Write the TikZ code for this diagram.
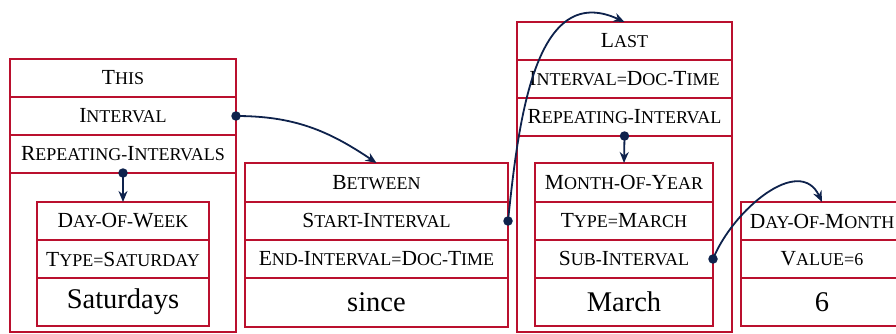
\documentclass[tikz,border=0pt]{standalone}
\usepackage{fontspec}
\setmainfont{Liberation Serif}
\usetikzlibrary{arrows.meta}
\definecolor{boxred}{RGB}{186,16,46}
\definecolor{navy}{RGB}{14,34,76}
\newcommand\Lg[1]{{\fontsize{21.5}{24}\selectfont #1}}
\newcommand\Sm[1]{{\fontsize{18}{20}\selectfont #1}}
\newcommand\Bgtext[1]{{\fontsize{28.5}{32}\selectfont #1}}
\tikzset{
  cell/.style={inner sep=0pt, outer sep=0pt, anchor=north west, align=center},
  boxline/.style={draw=boxred, line width=2pt},
  frame/.style={boxline, inner sep=0pt, outer sep=0pt, anchor=north west},
  conn/.style={navy, line width=1.8pt, -{Stealth[length=11pt,width=9pt]}},
  dotmark/.style={fill=navy, draw=none, circle, minimum size=9.5pt, inner sep=0pt}
}
\begin{document}
\begin{tikzpicture}[x=1pt,y=-1pt]
\useasboundingbox (0,0) rectangle (896,334);
\clip (0,0) rectangle (896,334);
% THIS
\node[frame, minimum width=226pt, minimum height=273pt] (thisbox) at (10,59) {};
\node[cell, minimum width=226pt, minimum height=38pt] (thisT) at (10,59) {\Lg{T}\Sm{HIS}};
\node[cell, minimum width=226pt, minimum height=38pt] (thisI) at (10,97) {\Lg{I}\Sm{NTERVAL}};
\node[cell, minimum width=226pt, minimum height=38pt] (thisR) at (10,135) {\Lg{R}\Sm{EPEATING-}\Lg{I}\Sm{NTERVALS}};
\node[cell, minimum width=172pt, minimum height=38pt] (dowT) at (37,202) {\Lg{D}\Sm{AY-}\Lg{O}\Sm{F-}\Lg{W}\Sm{EEK}};
\node[cell, minimum width=172pt, minimum height=38pt] (dowY) at (37,240) {\Lg{T}\Sm{YPE=}\Lg{S}\Sm{ATURDAY}};
\node[cell, minimum width=172pt, minimum height=48pt] (dowW) at (37,278) {\Bgtext{Saturdays}};
% BETWEEN
\node[cell, minimum width=263pt, minimum height=39pt] (betT) at (245,163) {\Lg{B}\Sm{ETWEEN}};
\node[cell, minimum width=263pt, minimum height=38pt] (betS) at (245,202) {\Lg{S}\Sm{TART-}\Lg{I}\Sm{NTERVAL}};
\node[cell, minimum width=263pt, minimum height=38pt] (betE) at (245,240) {\Lg{E}\Sm{ND-}\Lg{I}\Sm{NTERVAL=}\Lg{D}\Sm{OC-}\Lg{T}\Sm{IME}};
\node[cell, minimum width=263pt, minimum height=49pt] (betW) at (245,278) {\Bgtext{since}};
% LAST
\node[frame, minimum width=215pt, minimum height=310pt] (lastbox) at (517,22) {};
\node[cell, minimum width=215pt, minimum height=38pt] (lastT) at (517,22) {\Lg{L}\Sm{AST}};
\node[cell, minimum width=215pt, minimum height=38pt] (lastI) at (517,60) {\Lg{I}\Sm{NTERVAL=}\Lg{D}\Sm{OC-}\Lg{T}\Sm{IME}};
\node[cell, minimum width=215pt, minimum height=38pt] (lastR) at (517,98) {\Lg{R}\Sm{EPEATING-}\Lg{I}\Sm{NTERVAL}};
\node[cell, minimum width=178pt, minimum height=39pt] (moyT) at (535,163) {\Lg{M}\Sm{ONTH-}\Lg{O}\Sm{F-}\Lg{Y}\Sm{EAR}};
\node[cell, minimum width=178pt, minimum height=38pt] (moyY) at (535,202) {\Lg{T}\Sm{YPE=}\Lg{M}\Sm{ARCH}};
\node[cell, minimum width=178pt, minimum height=38pt] (moyS) at (535,240) {\Lg{S}\Sm{UB-}\Lg{I}\Sm{NTERVAL}};
\node[cell, minimum width=178pt, minimum height=48pt] (moyW) at (535,278) {\Bgtext{March}};
% DAY-OF-MONTH
\node[cell, minimum width=162pt, minimum height=38pt] (domT) at (741,202) {\Lg{D}\Sm{AY-}\Lg{O}\Sm{F-}\Lg{M}\Sm{ONTH}};
\node[cell, minimum width=162pt, minimum height=38pt] (domV) at (741,240) {\Lg{V}\Sm{ALUE=6}};
\node[cell, minimum width=162pt, minimum height=48pt] (domW) at (741,278) {\Bgtext{6}};
% box outlines and separators
\draw[boxline] (thisT.south west) -- (thisT.south east) (thisI.south west) -- (thisI.south east) (thisR.south west) -- (thisR.south east);
\draw[boxline] (dowT.north west) rectangle (dowW.south east);
\draw[boxline] (dowT.south west) -- (dowT.south east) (dowY.south west) -- (dowY.south east);
\draw[boxline] (betT.north west) rectangle (betW.south east);
\draw[boxline] (betT.south west) -- (betT.south east) (betS.south west) -- (betS.south east) (betE.south west) -- (betE.south east);
\draw[boxline] (lastT.south west) -- (lastT.south east) (lastI.south west) -- (lastI.south east) (lastR.south west) -- (lastR.south east);
\draw[boxline] (moyT.north west) rectangle (moyW.south east);
\draw[boxline] (moyT.south west) -- (moyT.south east) (moyY.south west) -- (moyY.south east) (moyS.south west) -- (moyS.south east);
\draw[boxline] (domT.north west) rectangle (domW.south east);
\draw[boxline] (domT.south west) -- (domT.south east) (domV.south west) -- (domV.south east);
% connectors
\draw[conn] (thisI.east) to[out=0, in=146] (betT.north);
\draw[conn] (thisR.south) -- (dowT.north);
\draw[conn] (betS.east) to[out=84, in=155, looseness=1.1] (lastT.north);
\draw[conn] (lastR.south) -- (moyT.north);
\draw[conn] (moyS.east) to[out=68, in=115, looseness=1.1] (domT.north);
\node[dotmark] (d1) at (thisI.east) {};
\node[dotmark] (d2) at (thisR.south) {};
\node[dotmark] (d3) at (betS.east) {};
\node[dotmark] (d4) at (lastR.south) {};
\node[dotmark] (d5) at (moyS.east) {};
\end{tikzpicture}
\end{document}
